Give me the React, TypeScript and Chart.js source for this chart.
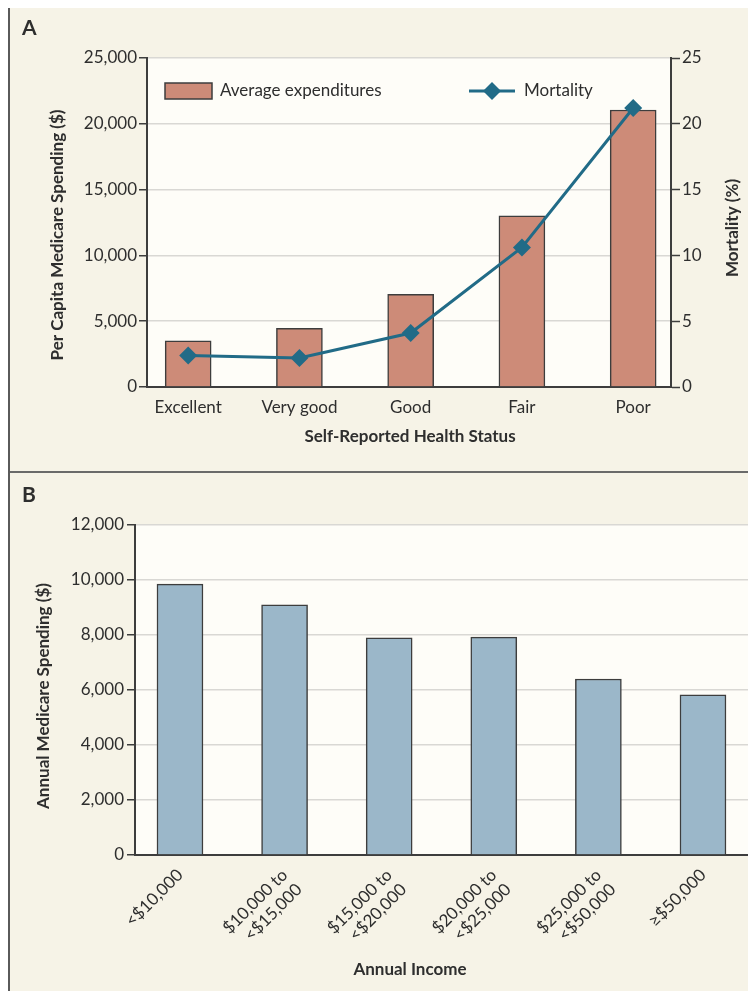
import React, { useEffect, useRef } from 'react';
import { Chart, registerables } from 'chart.js';

Chart.register(...registerables);

// ---------- Data ----------
const healthStatus = ['Excellent', 'Very good', 'Good', 'Fair', 'Poor'];
const avgExpenditures = [3500, 4450, 7050, 13000, 21050];
const mortalityPct = [2.4, 2.2, 4.1, 10.6, 21.2];

const incomeGroups: string[][] = [
  ['<$10,000'],
  ['$10,000 to', '<$15,000'],
  ['$15,000 to', '<$20,000'],
  ['$20,000 to', '<$25,000'],
  ['$25,000 to', '<$50,000'],
  ['\u2265$50,000'],
];
const annualSpending = [9850, 9100, 7900, 7920, 6400, 5820];

// ---------- Styles ----------
const FONT = 'Lato';
const PANEL_BG = '#f6f3e7';
const PLOT_BG = '#fefdf8';
const GRID = '#d9d8d4';
const AXIS = '#3d3d3d';
const TEXT = '#2e2e2e';
const BAR_A = '#cd8b78';
const LINE_A = '#216b87';
const BAR_B = '#9bb7c9';

type TextItem = { text: string; x: number; y: number; rot?: number; size: number; bold?: boolean; align?: CanvasTextAlign; baseline?: CanvasTextBaseline };

function makeDecor(texts: TextItem[], legend?: boolean) {
  return {
    id: 'decor',
    beforeDraw(chart: any) {
      const { ctx, chartArea: a } = chart;
      ctx.save();
      ctx.fillStyle = PANEL_BG;
      ctx.fillRect(0, 0, chart.width, chart.height);
      ctx.fillStyle = PLOT_BG;
      ctx.fillRect(a.left, a.top, a.right - a.left, a.bottom - a.top);
      ctx.restore();
    },
    afterDraw(chart: any) {
      const { ctx, chartArea: a } = chart;
      ctx.save();
      ctx.fillStyle = TEXT;
      for (const t of texts) {
        ctx.save();
        ctx.translate(t.x, t.y);
        ctx.rotate(t.rot || 0);
        ctx.font = `${t.bold ? 'bold ' : ''}${t.size}px ${FONT}`;
        ctx.textAlign = t.align || 'center';
        ctx.textBaseline = t.baseline || 'middle';
        ctx.fillText(t.text, 0, 0);
        ctx.restore();
      }
      if (legend) {
        const ds = chart.data.datasets;
        const y = a.top + 33;
        // bar legend
        const bx = a.left + 18;
        ctx.fillStyle = BAR_A;
        ctx.fillRect(bx, y - 8, 47, 16);
        ctx.strokeStyle = AXIS;
        ctx.lineWidth = 1.5;
        ctx.strokeRect(bx, y - 8, 47, 16);
        ctx.fillStyle = TEXT;
        ctx.font = `17px ${FONT}`;
        ctx.textAlign = 'left';
        ctx.textBaseline = 'middle';
        ctx.fillText(ds[0].label, bx + 55, y);
        // line legend
        const lx = a.left + 322;
        ctx.strokeStyle = LINE_A;
        ctx.lineWidth = 3;
        ctx.beginPath();
        ctx.moveTo(lx, y);
        ctx.lineTo(lx + 46, y);
        ctx.stroke();
        ctx.fillStyle = LINE_A;
        ctx.beginPath();
        const cx = lx + 23;
        const r = 9;
        ctx.moveTo(cx - r, y);
        ctx.lineTo(cx, y - r);
        ctx.lineTo(cx + r, y);
        ctx.lineTo(cx, y + r);
        ctx.closePath();
        ctx.fill();
        ctx.fillStyle = TEXT;
        ctx.fillText(ds[1].label, lx + 55, y);
      }
      ctx.restore();
    },
  };
}

const tickFont = { family: FONT, size: 17 };
const fmt = (v: any) => Number(v).toLocaleString('en-US');

function ChartA() {
  const ref = useRef<HTMLCanvasElement>(null);
  useEffect(() => {
    const chart = new Chart(ref.current!, {
      type: 'bar',
      data: {
        datasets: [
          {
            type: 'bar',
            label: 'Average expenditures',
            data: healthStatus.map((_, i) => ({ x: i, y: avgExpenditures[i] })),
            backgroundColor: BAR_A,
            borderColor: AXIS,
            borderWidth: 1.5,
            barThickness: 46,
            yAxisID: 'y',
            order: 2,
          } as any,
          {
            type: 'line',
            label: 'Mortality',
            data: healthStatus.map((_, i) => ({ x: i, y: mortalityPct[i] })),
            borderColor: LINE_A,
            backgroundColor: LINE_A,
            borderWidth: 3,
            pointStyle: 'rectRot',
            pointRadius: 9,
            pointBorderWidth: 0,
            tension: 0,
            yAxisID: 'y1',
            order: 1,
          } as any,
        ],
      },
      options: {
        responsive: false,
        animation: false,
        events: [],
        layout: { padding: { top: 50, right: 0, left: 0, bottom: 0 } },
        plugins: { legend: { display: false }, tooltip: { enabled: false } },
        scales: {
          x: {
            type: 'linear',
            offset: false,
            min: -0.37,
            max: 4.34,
            afterBuildTicks: (axis: any) => {
              axis.ticks = healthStatus.map((_, i) => ({ value: i }));
            },
            afterFit: (s: any) => { s.height = 84; },
            grid: { display: false, drawTicks: false },
            border: { display: true, color: AXIS, width: 2 },
            ticks: {
              autoSkip: false,
              maxRotation: 0,
              padding: 10,
              color: TEXT,
              font: tickFont,
              callback: (v: any) => healthStatus[v] ?? '',
            },
          },
          y: {
            position: 'left',
            min: 0,
            max: 25000,
            afterFit: (s: any) => { s.width = 137; },
            ticks: { stepSize: 5000, color: TEXT, font: tickFont, padding: 2, callback: fmt },
            grid: { color: GRID, lineWidth: 1.5, tickColor: AXIS, tickLength: 8, tickWidth: 1.5 },
            border: { color: AXIS, width: 2 },
          },
          y1: {
            position: 'right',
            min: 0,
            max: 25,
            afterFit: (s: any) => { s.width = 85; },
            ticks: { stepSize: 5, color: TEXT, font: tickFont, padding: 2 },
            grid: { drawOnChartArea: false, tickColor: AXIS, tickLength: 9, tickWidth: 1.5 },
            border: { color: AXIS, width: 2 },
          },
        },
      } as any,
      plugins: [
        makeDecor(
          [
            { text: 'A', x: 12, y: 27, size: 21, bold: true, align: 'left', baseline: 'alphabetic' },
            { text: 'Per Capita Medicare Spending ($)', x: 48, y: 227, rot: -Math.PI / 2, size: 17, bold: true },
            { text: 'Mortality (%)', x: 723, y: 220, rot: -Math.PI / 2, size: 17, bold: true },
            { text: 'Self-Reported Health Status', x: 400, y: 429, size: 17, bold: true },
          ],
          true,
        ) as any,
      ],
    });
    return () => chart.destroy();
  }, []);
  return <canvas ref={ref} width={746} height={463} style={{ display: 'block', width: 746, height: 463 }} />;
}

function ChartB() {
  const ref = useRef<HTMLCanvasElement>(null);
  useEffect(() => {
    const chart = new Chart(ref.current!, {
      type: 'bar',
      data: {
        datasets: [
          {
            label: 'Annual Medicare Spending',
            data: incomeGroups.map((_, i) => ({ x: i, y: annualSpending[i] })),
            backgroundColor: BAR_B,
            borderColor: AXIS,
            borderWidth: 1.5,
            barThickness: 46,
          } as any,
        ],
      },
      options: {
        responsive: false,
        animation: false,
        events: [],
        layout: { padding: { top: 52, right: 7, left: 0, bottom: 0 } },
        plugins: { legend: { display: false }, tooltip: { enabled: false } },
        scales: {
          x: {
            type: 'linear',
            offset: false,
            min: -0.43,
            max: 5.44,
            afterBuildTicks: (axis: any) => {
              axis.ticks = incomeGroups.map((_, i) => ({ value: i }));
            },
            afterCalculateLabelRotation: (s: any) => { s.labelRotation = 45; },
            afterFit: (s: any) => { s.height = 136; },
            grid: { display: false, drawTicks: false },
            border: { display: true, color: AXIS, width: 2 },
            ticks: {
              autoSkip: false,
              minRotation: 45,
              maxRotation: 45,
              padding: 10,
              color: TEXT,
              font: tickFont,
              callback: (v: any) => incomeGroups[v] ?? '',
            },
          },
          y: {
            position: 'left',
            min: 0,
            max: 12000,
            afterFit: (s: any) => { s.width = 125; },
            ticks: { stepSize: 2000, color: TEXT, font: tickFont, padding: 3, callback: fmt },
            grid: { color: GRID, lineWidth: 1.5, tickColor: AXIS, tickLength: 8, tickWidth: 1.5 },
            border: { color: AXIS, width: 2 },
          },
        },
      } as any,
      plugins: [
        makeDecor([
          { text: 'B', x: 12, y: 29, size: 21, bold: true, align: 'left', baseline: 'alphabetic' },
          { text: 'Annual Medicare Spending ($)', x: 34, y: 223, rot: -Math.PI / 2, size: 17, bold: true },
          { text: 'Annual Income', x: 400, y: 497, size: 17, bold: true },
        ]) as any,
      ],
    });
    return () => chart.destroy();
  }, []);
  return <canvas ref={ref} width={746} height={518} style={{ display: 'block', width: 746, height: 518 }} />;
}

export default function App() {
  useEffect(() => {
    document.documentElement.style.overflow = 'hidden';
  }, []);
  return (
    <div
      style={{
        marginTop: -2,
        width: 746,
        borderTop: '2px solid #5a5a5a',
        borderLeft: '2px solid #5a5a5a',
        background: PANEL_BG,
      }}
    >
      <ChartA />
      <div style={{ height: 2, background: '#6a6a6a' }} />
      <ChartB />
    </div>
  );
}
